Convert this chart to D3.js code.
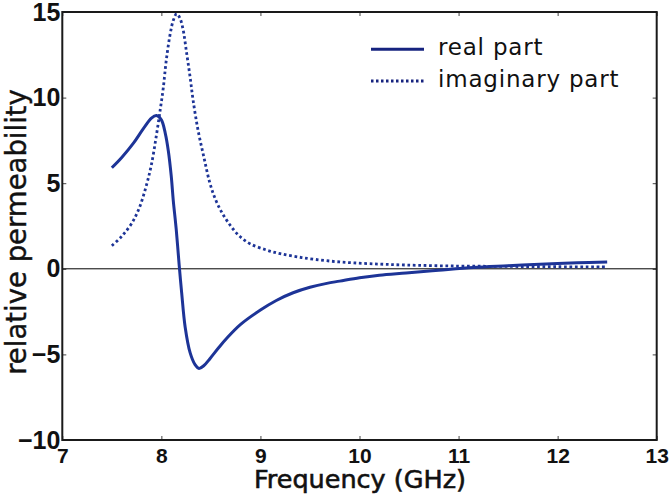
<!DOCTYPE html>
<html>
<head>
<meta charset="utf-8">
<script src="https://cdn.jsdelivr.net/npm/d3@7"></script>
<style>
  body { margin: 0; background: #fff; }
</style>
</head>
<body>
<script>
// permeability spectrum, real + imaginary part

// data (GHz)
var freqReal = [7.50, 7.60, 7.72, 7.82, 7.90, 7.95, 8.00, 8.04, 8.07, 8.10, 8.12, 8.15, 8.18, 8.205,
                8.24, 8.29, 8.34, 8.38, 8.43, 8.49, 8.58, 8.66, 8.80, 9.00, 9.16, 9.33, 9.50, 9.67,
                9.80, 10.00, 10.20, 10.47, 10.80, 11.15, 11.50, 11.82, 12.20, 12.50];
var realPart = [5.9, 6.5, 7.35, 8.2, 8.8, 8.95, 8.7, 7.9, 6.9, 5.4, 4.0, 2.3, 0.2, -1.4,
                -3.4, -4.9, -5.6, -5.82, -5.65, -5.25, -4.6, -4.06, -3.25, -2.41, -1.85, -1.4, -1.08, -0.85,
                -0.72, -0.52, -0.37, -0.24, -0.08, 0.08, 0.18, 0.27, 0.35, 0.4];

var freqImag = [7.50, 7.60, 7.70, 7.78, 7.85, 7.90, 7.95, 7.99, 8.02, 8.05, 8.09, 8.12, 8.155, 8.19, 8.22,
                8.255, 8.29, 8.32, 8.37, 8.43, 8.49, 8.55, 8.62, 8.70, 8.79, 8.90, 9.06, 9.20, 9.37,
                9.55, 9.80, 10.10, 10.47, 11.00, 11.50, 12.00, 12.50];
var imagPart = [1.35, 1.9, 2.65, 3.6, 4.9, 6.1, 7.8, 9.35, 10.6, 12.2, 13.75, 14.5, 14.9, 14.6, 13.95,
                12.6, 11.2, 9.86, 8.1, 6.5, 5.0, 4.0, 3.2, 2.5, 1.9, 1.45, 1.1, 0.88, 0.7,
                0.55, 0.4, 0.3, 0.22, 0.16, 0.14, 0.12, 0.11];

var xTicks = [7, 8, 9, 10, 11, 12, 13];
var yTicks = [-10, -5, 0, 5, 10, 15];
var legendNames = ["real part", "imaginary part"];

// 1. size
var outWidth = 672, outHeight = 500;
var margin = {top: 12, right: 15.3, bottom: 60, left: 62.3},
    width = outWidth - margin.left - margin.right,
    height = outHeight - margin.top - margin.bottom;
var lineColor = "#1d3497";

// 2. scales
var xScale = d3.scaleLinear().domain([7, 13]).range([0, width]);
var yScale = d3.scaleLinear().domain([-10, 15]).range([height, 0]);

var svg = d3.select("body").append("svg")
    .attr("width", outWidth)
    .attr("height", outHeight)
    .append("g")
    .attr("transform", "translate(" + margin.left + "," + margin.top + ")");

// 3. axes, ticks pointing inward
var xAxis = d3.axisBottom(xScale).tickValues(xTicks).tickFormat(d3.format("d"))
    .tickSizeInner(-4).tickSizeOuter(0).tickPadding(8);
var yAxis = d3.axisLeft(yScale).tickValues(yTicks).tickFormat(d3.format("d"))
    .tickSizeInner(-4).tickSizeOuter(0).tickPadding(2);
var xTop = d3.axisTop(xScale).tickValues(xTicks).tickSizeInner(-4).tickSizeOuter(0).tickFormat("");
var yRight = d3.axisRight(yScale).tickValues(yTicks).tickSizeInner(-4).tickSizeOuter(0).tickFormat("");

var gx = svg.append("g").attr("transform", "translate(0," + height + ")").call(xAxis);
var gy = svg.append("g").call(yAxis);
var gt = svg.append("g").call(xTop);
var gr = svg.append("g").attr("transform", "translate(" + width + ",0)").call(yRight);

[gx, gy, gt, gr].forEach(function(g) {
  g.select(".domain").remove();
  g.selectAll(".tick line").attr("stroke", "#444").attr("stroke-width", 1);
});
gx.selectAll("text")
    .style("font-family", "'Liberation Sans', Arial, sans-serif")
    .style("font-weight", "bold")
    .style("font-size", "21px")
    .attr("fill", "#111");
gy.selectAll("text")
    .style("font-family", "'Liberation Sans', Arial, sans-serif")
    .style("font-weight", "bold")
    .style("font-size", "25px")
    .attr("fill", "#111");

// zero line
svg.append("line")
    .attr("x1", 0).attr("x2", width)
    .attr("y1", yScale(0)).attr("y2", yScale(0))
    .attr("stroke", "#000")
    .attr("stroke-width", 1);

// 4. curves
var line = d3.line()
    .x(function(d) { return xScale(d[0]); })
    .y(function(d) { return yScale(d[1]); })
    .curve(d3.curveCatmullRom.alpha(0.5));

var realData = d3.zip(freqReal, realPart);
var imagData = d3.zip(freqImag, imagPart);

svg.append("path")
    .datum(imagData)
    .attr("d", line)
    .attr("fill", "none")
    .attr("stroke", lineColor)
    .attr("stroke-width", 2.8)
    .attr("stroke-dasharray", "2.7,2.7");

svg.append("path")
    .datum(realData)
    .attr("d", line)
    .attr("fill", "none")
    .attr("stroke", lineColor)
    .attr("stroke-width", 3);

// frame
svg.append("rect")
    .attr("width", width)
    .attr("height", height)
    .attr("fill", "none")
    .attr("stroke", "#1a1a1a")
    .attr("stroke-width", 2);

// 5. labels
svg.append("text")
    .attr("x", 360 - margin.left)
    .attr("y", 488 - margin.top)
    .style("text-anchor", "middle")
    .style("font-family", "'DejaVu Sans', sans-serif")
    .style("font-size", "25.5px")
    .attr("fill", "#111")
    .attr("stroke", "#111")
    .attr("stroke-width", 0.6)
    .text("Frequency (GHz)");

svg.append("text")
    .attr("transform", "rotate(-90)")
    .attr("x", -(232 - margin.top))
    .attr("y", 26 - margin.left)
    .style("text-anchor", "middle")
    .style("font-family", "'DejaVu Sans', sans-serif")
    .style("font-size", "27.5px")
    .attr("fill", "#111")
    .attr("stroke", "#111")
    .attr("stroke-width", 0.4)
    .text("relative permeability");

// legend
var legend = svg.selectAll(".legend")
    .data(legendNames)
  .enter().append("g")
    .attr("class", "legend")
    .attr("transform", function(d, i) { return "translate(" + (371 - margin.left) + "," + (49.3 - margin.top + i * 31.7) + ")"; });

legend.append("line")
    .attr("x1", 0).attr("x2", 53)
    .attr("stroke", "#16237f")
    .attr("stroke-width", 3)
    .attr("stroke-dasharray", function(d, i) { return i == 1 ? "2.5,2.5" : null; });

legend.append("text")
    .attr("x", 67)
    .attr("y", 6)
    .style("font-family", "'DejaVu Sans', sans-serif")
    .style("font-size", "23px")
    .style("letter-spacing", "0.8px")
    .attr("fill", "#111")
    .text(function(d) { return d; });
</script>
</body>
</html>
